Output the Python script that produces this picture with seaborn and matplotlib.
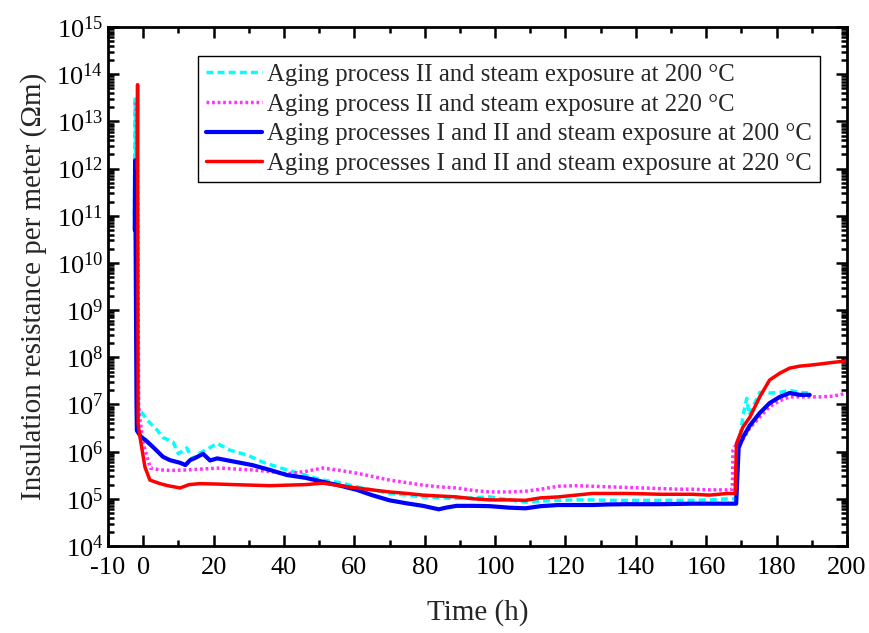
import matplotlib
matplotlib.use("Agg")
import matplotlib.pyplot as plt
import matplotlib.ticker as mticker
import numpy as np
import pandas as pd
import seaborn as sns

# ---------------- data ----------------
labels = [
    "Aging process II and steam exposure at 200 °C",
    "Aging process II and steam exposure at 220 °C",
    "Aging processes I and II and steam exposure at 200 °C",
    "Aging processes I and II and steam exposure at 220 °C",
]

cyan_t = [-2.5, -2.3, -2.0, -1.6, -1.2, -0.9, 1.1, 3.9, 5.6, 8.5, 10, 12.4, 14, 16, 18, 21,
          24.7, 29.5, 34, 40.8, 46, 51, 56, 60.7, 65, 70, 75, 79.5, 84, 89, 94, 98.5,
          104, 108.6, 113, 118, 123, 127.6, 132, 137, 142, 147, 152, 156, 161, 166,
          168.3, 168.6, 169.5, 170.5, 171.5, 172.2, 173.3, 175.2, 178, 180.9, 183.7,
          186.6, 189.4]
cyan_y = [1e11, 3.2e13, 1e10, 1e7, 8.5e6, 7.6e6, 4.7e6, 2.9e6, 2.0e6, 1.6e6, 9e5, 1.2e6,
          7e5, 9.3e5, 1.1e6, 1.5e6, 1.07e6, 8.5e5, 6e5, 4.1e5, 3.2e5, 2.5e5, 2.2e5, 1.8e5,
          1.55e5, 1.3e5, 1.2e5, 1.1e5, 1.05e5, 1.02e5, 1.05e5, 1.1e5, 9.5e4, 8.5e4, 9e4,
          9.3e4, 9.5e4, 9.5e4, 9.3e4, 9.3e4, 9.3e4, 9.3e4, 9.3e4, 9.3e4, 9.5e4, 1.0e5,
          1.0e5, 1.2e6, 1.8e6, 6e6, 1.35e7, 6e6, 9e6, 1.8e7, 1.75e7, 1.8e7, 2.0e7,
          1.8e7, 1.75e7]

mag_t = [-2.0, -1.6, -1.3, -0.9, 0.0, 1.1, 2, 4.8, 8, 12.4, 17, 21.8, 26, 31, 36, 40.8,
         46, 51, 56, 60.7, 65, 70, 75, 79.5, 84, 89, 94, 98.5, 104, 108.6, 113, 118,
         123, 127.6, 132, 137, 142, 147, 152, 156, 161, 166, 167.4, 167.6, 168.5, 170.4,
         172.4, 175.2, 178, 180.9, 183.7, 186.6, 189.4, 192.3, 196, 199.4, 200]
mag_y = [2.5e13, 1e12, 1e7, 4.7e6, 1.5e6, 7.8e5, 4.5e5, 4.1e5, 4.0e5, 4.1e5, 4.3e5, 4.5e5,
         4.3e5, 4.1e5, 3.8e5, 3.4e5, 3.8e5, 4.5e5, 4.0e5, 3.5e5, 3.0e5, 2.5e5, 2.2e5,
         1.95e5, 1.8e5, 1.7e5, 1.5e5, 1.4e5, 1.4e5, 1.45e5, 1.6e5, 1.85e5, 1.9e5, 1.85e5,
         1.8e5, 1.75e5, 1.7e5, 1.65e5, 1.6e5, 1.6e5, 1.55e5, 1.55e5, 1.6e5, 1.1e6, 1.4e6,
         1.8e6, 3.2e6, 5.4e6, 9e6, 1.2e7, 1.45e7, 1.45e7, 1.45e7, 1.45e7, 1.5e7, 1.7e7,
         1.75e7]

blue_t = [-2.4, -2.3, -2.2, -1.9, -1.8, -0.5, 0.5, 2.8, 5.6, 7.6, 10.5, 12, 13.3, 15, 17,
          19, 21, 26.6, 31, 36, 40.8, 46, 51, 56, 60.7, 65, 70, 75, 79.5, 84, 86, 89,
          94, 98.5, 104, 108.6, 113, 118, 123, 127.6, 132, 137, 142, 147, 152, 156, 161,
          166, 168.5, 169.2, 170.4, 172.4, 175.2, 178, 180.9, 183.7, 186.6, 189.4]
blue_y = [5e10, 1.5e12, 1e11, 1e7, 2.8e6, 2e6, 1.8e6, 1.25e6, 7.8e5, 6.6e5, 5.8e5, 5.2e5,
          6.6e5, 7.5e5, 9e5, 6.5e5, 7.2e5, 6.0e5, 5.2e5, 4.1e5, 3.2e5, 2.8e5, 2.3e5,
          1.9e5, 1.55e5, 1.2e5, 9.3e4, 8e4, 7.1e4, 6.0e4, 6.5e4, 7.1e4, 7.1e4, 7e4,
          6.5e4, 6.3e4, 7e4, 7.4e4, 7.4e4, 7.4e4, 7.6e4, 7.7e4, 7.7e4, 7.7e4, 7.8e4,
          7.9e4, 7.9e4, 7.9e4, 7.9e4, 1.2e6, 2.0e6, 3.6e6, 6.6e6, 1.07e7, 1.45e7,
          1.75e7, 1.6e7, 1.6e7]

red_t = [-1.7, -1.6, -1.45, -1.2, -0.9, 0.5, 1.9, 4.8, 7, 10.5, 13, 16, 21.8, 26, 31, 36,
         40.8, 46, 51, 56, 60.7, 65, 70, 75, 79.5, 84, 89, 94, 98.5, 104, 108.6, 113,
         118, 123, 127.6, 132, 137, 142, 147, 152, 156, 161, 166, 168.2, 168.6, 170.4,
         172.4, 175.2, 178, 180.9, 183.7, 186.6, 189.4, 192.3, 196, 199.4, 200]
red_y = [1e12, 6e13, 4e6, 2.8e6, 2e6, 4.7e5, 2.5e5, 2.1e5, 1.9e5, 1.7e5, 2.0e5, 2.1e5,
         2.05e5, 2.0e5, 1.95e5, 1.9e5, 1.95e5, 2.0e5, 2.15e5, 1.9e5, 1.7e5, 1.55e5,
         1.4e5, 1.3e5, 1.2e5, 1.15e5, 1.1e5, 1.0e5, 9.5e4, 9.5e4, 9.3e4, 1.05e5, 1.1e5,
         1.2e5, 1.3e5, 1.3e5, 1.3e5, 1.28e5, 1.25e5, 1.25e5, 1.25e5, 1.2e5, 1.3e5, 1.3e5,
         1.5e6, 3.3e6, 5.4e6, 1.45e7, 3.3e7, 4.6e7, 5.9e7, 6.5e7, 6.8e7, 7.2e7, 7.8e7,
         8.3e7, 8.5e7]

x_ticks = [-10, 0, 20, 40, 60, 80, 100, 120, 140, 160, 180, 200]
x_tick_labels = ["-10", "0", "20", "40", "60", "80", "100", "120", "140", "160", "180", "200"]

# ---------------- styling ----------------
sns.set_theme(style="ticks")
plt.rcParams["font.family"] = ["Liberation Serif", "DejaVu Serif"]
plt.rcParams["mathtext.fontset"] = "custom"
plt.rcParams["mathtext.rm"] = "Liberation Serif"
plt.rcParams["mathtext.it"] = "Liberation Serif:italic"

fig = plt.figure(figsize=(8.69, 6.33), dpi=100)
ax = fig.add_axes([0.1243, 0.1374, 0.8504, 0.8199])

series = [
    (cyan_t, cyan_y, "#00FFFF", (0, (2.0, 1.2)), 2.5),
    (mag_t, mag_y, "#FF33FF", (0, (0.8, 0.8)), 2.5),
    (blue_t, blue_y, "#0000FF", "-", 3.0),
    (red_t, red_y, "#FF0000", "-", 2.5),
]

for (t, y, c, ls, lw), lab in zip(series, labels):
    df = pd.DataFrame({"t": t, "y": y})
    sns.lineplot(data=df, x="t", y="y", ax=ax, color=c, linestyle=ls, linewidth=lw,
                 label=lab, sort=False, estimator=None)

ax.set_yscale("log")
ax.set_xlim(-10, 200)
ax.set_ylim(1e4, 1e15)

ax.set_xticks(x_ticks)
ax.set_xticklabels(x_tick_labels)
ax.xaxis.set_minor_locator(mticker.FixedLocator(list(range(10, 200, 20))))
ax.yaxis.set_major_locator(mticker.LogLocator(base=10, numticks=20))
ax.yaxis.set_major_formatter(mticker.LogFormatterMathtext())
ax.yaxis.set_minor_locator(mticker.LogLocator(base=10, subs=np.arange(2, 10), numticks=20))
ax.yaxis.set_minor_formatter(mticker.NullFormatter())

ax.tick_params(which="both", direction="in", top=True, right=True, colors="black",
               labelsize=19, width=1.8)
ax.tick_params(which="major", length=8)
ax.tick_params(which="minor", length=4.5)
ax.tick_params(axis="x", pad=8)
for s in ax.spines.values():
    s.set_linewidth(2.0)
    s.set_color("black")

ax.set_xlabel("Time (h)", fontsize=21, labelpad=14)
ax.set_ylabel("Insulation resistance per meter (Ωm)", fontsize=21, labelpad=7)

leg = ax.legend(loc="upper right", bbox_to_anchor=(0.963, 0.944), fontsize=17.8,
                frameon=True, fancybox=False, framealpha=1, edgecolor="black",
                handlelength=2.3, handletextpad=0.2, labelspacing=0.3,
                borderpad=0.3, borderaxespad=0)
leg.get_frame().set_linewidth(1.0)

fig.savefig("out.png", dpi=100)
